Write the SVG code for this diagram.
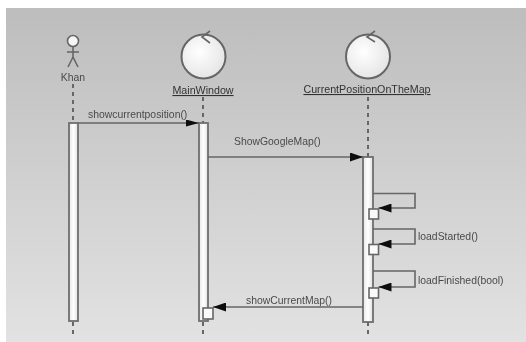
<svg xmlns="http://www.w3.org/2000/svg" width="526" height="342" viewBox="0 0 526 342">
<style>
.ln{fill:none;stroke:#666;stroke-width:1.6}
.ll{fill:none;stroke:#666;stroke-width:2;stroke-dasharray:4 4}
.act{fill:url(#bar);stroke:#6e6e6e;stroke-width:1.8}
.box{fill:#fafafa;stroke:#666;stroke-width:1.6}
.circ{fill:url(#ball);stroke:#666;stroke-width:2}
text{font-family:"Liberation Sans",Arial,sans-serif;font-size:10.4px;fill:#4a4a4a}
.hd{text-decoration:underline;font-size:10.7px;fill:#333}
.ah{fill:#111;stroke:none}
</style>
<defs>
<linearGradient id="bg" x1="0" y1="0" x2="0" y2="1"><stop offset="0" stop-color="#bdbdbd"/><stop offset="1" stop-color="#e2e2e2"/></linearGradient>
<linearGradient id="bar" x1="0" y1="0" x2="1" y2="0"><stop offset="0" stop-color="#e6e6e6"/><stop offset=".5" stop-color="#fff"/><stop offset="1" stop-color="#e0e0e0"/></linearGradient>
<radialGradient id="ball" cx=".4" cy=".4" r=".7"><stop offset="0" stop-color="#fff"/><stop offset="1" stop-color="#e2e2e2"/></radialGradient>
<filter id="soft" x="-5%" y="-5%" width="110%" height="110%"><feGaussianBlur stdDeviation="0.7"/></filter>
<marker id="arr" viewBox="0 0 13 9" refX="13" refY="4.5" markerWidth="13" markerHeight="9" markerUnits="userSpaceOnUse" orient="auto"><path class="ah" d="M0 0L13 4.5L0 9Z"/></marker>
<marker id="arr-small" viewBox="0 0 13 7" refX="13" refY="3.5" markerWidth="13" markerHeight="7" markerUnits="userSpaceOnUse" orient="auto"><path class="ah" d="M0 0L13 3.5L0 7Z"/></marker>
</defs>
<rect width="526" height="342" fill="#fff"/>
<rect x="6" y="8" width="520" height="334" fill="url(#bg)"/>
<g filter="url(#soft)">
<g id="lifelines">
<path class="ll" d="M73 84V123M73 322V336"/>
<path class="ll" d="M203 97V123M203 322V336"/>
<path class="ll" d="M368 97V157M368 322V336"/>
</g>
<g id="actor-khan">
<circle cx="73" cy="41" r="5.5" fill="#f6f6f6" stroke="#666" stroke-width="1.6"/>
<path class="ln" d="M73 46.500V57M67 52H79M73 57L68 67M73 57L78 67"/>
<text x="73" y="81" text-anchor="middle">Khan</text>
</g>
<g id="main-window">
<circle class="circ" cx="203.500" cy="56.500" r="22"/>
<path class="ln" d="M210 31L202 37L210 43"/>
<text class="hd" x="203" y="94" text-anchor="middle">MainWindow</text>
</g>
<g id="current-position">
<circle class="circ" cx="368" cy="56.500" r="22"/>
<path class="ln" d="M375 31L367 37L375 42"/>
<text class="hd" x="367" y="93" text-anchor="middle">CurrentPositionOnTheMap</text>
</g>
<g id="activations">
<rect class="act" x="69" y="123" width="9" height="198"/>
<rect class="act" x="199" y="123" width="9" height="198"/>
<rect class="act" x="363" y="157" width="10" height="165"/>
<rect class="box" x="203" y="308" width="10" height="11"/>
<rect class="box" x="369" y="209" width="9.500" height="10"/>
<rect class="box" x="369" y="244.500" width="9.500" height="10"/>
<rect class="box" x="369" y="288" width="9.500" height="10"/>
</g>
<g id="connectors">
<path class="ln" d="M78 123H199" marker-end="url(#arr-small)"/>
<path class="ln" d="M208 157H363" marker-end="url(#arr)"/>
<path class="ln" d="M373 193.500H415V208H378.500" marker-end="url(#arr)"/>
<path class="ln" d="M373 229H415V244H378.500" marker-end="url(#arr)"/>
<path class="ln" d="M373 271H415V287H378.500" marker-end="url(#arr)"/>
<path class="ln" d="M363 307H213" marker-end="url(#arr)"/>
</g>
<g id="labels">
<text x="88" y="118">showcurrentposition()</text>
<text x="234" y="145">ShowGoogleMap()</text>
<text x="418" y="240">loadStarted()</text>
<text x="418" y="284">loadFinished(bool)</text>
<text x="246" y="304">showCurrentMap()</text>
</g>
</g>
</svg>
